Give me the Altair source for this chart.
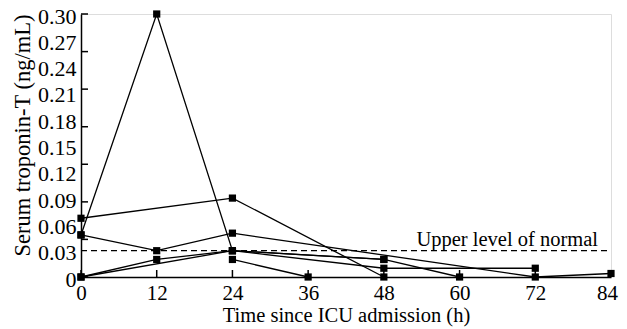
import altair as alt
import pandas as pd

# ---- data ----
patients = ["P1", "P2", "P3", "P4", "P5", "P6"]
hours = {
    "P1": [0, 24, 48],
    "P2": [0, 12, 24, 48, 60],
    "P3": [0, 12, 24, 72, 84],
    "P4": [0, 12, 24, 48, 72],
    "P5": [0, 24, 48],
    "P6": [24, 36],
}
troponin = {
    "P1": [0.067, 0.090, 0.0],
    "P2": [0.048, 0.30, 0.030, 0.020, 0.0],
    "P3": [0.048, 0.030, 0.050, 0.0, 0.004],
    "P4": [0.0, 0.020, 0.030, 0.010, 0.010],
    "P5": [0.0, 0.030, 0.020],
    "P6": [0.020, 0.0],
}
x_ticks = [0, 12, 24, 36, 48, 60, 72, 84]
y_labels = [0, 0.03, 0.06, 0.09, 0.12, 0.15, 0.18, 0.21, 0.24, 0.27, 0.30]
y_tickmarks = [0, 0.0429, 0.0857, 0.1286, 0.1714, 0.2143, 0.2571, 0.30]
upper_normal = 0.03
upper_label = "Upper level of normal"
x_title = "Time since ICU admission (h)"
y_title = "Serum troponin-T (ng/mL)"

rows = []
for p in patients:
    for h, v in zip(hours[p], troponin[p]):
        rows.append({"patient": p, "hour": h, "value": v})
df = pd.DataFrame(rows)

FONT = "Liberation Serif"
W, H = 530, 263
TICK = 7

xscale = alt.Scale(domain=[0, 84], nice=False, zero=False)
yscale = alt.Scale(domain=[0, 0.30], nice=False, zero=False)

x_axis = alt.Axis(
    orient="bottom", values=x_ticks, ticks=False, grid=False,
    labelFont=FONT, titleFont=FONT,
    labelFontSize=21, labelPadding=5, labelFlush=False, labelOverlap=False,
    labelOffset=alt.condition("datum.value == 84", alt.value(-4), alt.value(0)),
    title=x_title, titleFontSize=20.5, titlePadding=2,
)
y_axis = alt.Axis(
    orient="left", values=y_labels, ticks=False, grid=False,
    labelFont=FONT, titleFont=FONT,
    labelFontSize=22, labelPadding=5, labelOffset=2, labelFlush=False, labelOverlap=False,
    labelExpr="datum.value == 0 ? '0' : format(datum.value, '.2f')",
    title=y_title, titleFontSize=22.5, titlePadding=3, titleY=121,
)


def X(field):
    return alt.X(field, type="quantitative", scale=xscale, axis=x_axis)


def Y(field):
    return alt.Y(field, type="quantitative", scale=yscale, axis=y_axis)


base = alt.Chart(df)
lines = base.mark_line(color="black", strokeWidth=1.3).encode(
    x=X("hour"), y=Y("value"), detail="patient:N", order="hour:Q"
)
points = base.mark_point(shape="square", filled=True, size=52, color="black", opacity=1).encode(
    x=X("hour"), y=Y("value")
)
rule_df = pd.DataFrame({"x": [x_ticks[0]], "x2": [x_ticks[-1]], "y": [upper_normal]})
rule = alt.Chart(rule_df).mark_rule(color="black", strokeWidth=1.3, strokeDash=[6, 4]).encode(
    x=X("x"), x2="x2:Q", y=Y("y")
)
label_df = pd.DataFrame({"x": [x_ticks[-1]], "y": [upper_normal], "t": [upper_label]})
label = alt.Chart(label_df).mark_text(
    align="right", baseline="alphabetic", dx=-13, dy=-5, font=FONT, fontSize=20.5, color="black"
).encode(x=X("x"), y=Y("y"), text="t:N")

# inward tick marks (positions from the scales)
xt = alt.Chart(pd.DataFrame({"x": x_ticks})).mark_rule(color="black", strokeWidth=1.5).encode(
    x=X("x"), y=alt.value(H), y2=alt.value(H - TICK)
)
yt = alt.Chart(pd.DataFrame({"y": y_tickmarks})).mark_rule(color="black", strokeWidth=1.5).encode(
    y=Y("y"), x=alt.value(0), x2=alt.value(TICK)
)

chart = alt.layer(xt, yt, rule, lines, points, label).properties(
    width=W, height=H,
    autosize=alt.AutoSizeParams(type="none"),
    padding={"left": 73, "top": 6, "right": 8, "bottom": 52},
).configure_view(strokeWidth=0).configure(background="white").configure_axis(
    labelFont=FONT, titleFont=FONT, labelColor="black", titleColor="black",
    titleFontWeight="normal", domainColor="black", domainWidth=1.5,
)

chart.save("out.html", embed_options={"renderer": "svg", "actions": False})
